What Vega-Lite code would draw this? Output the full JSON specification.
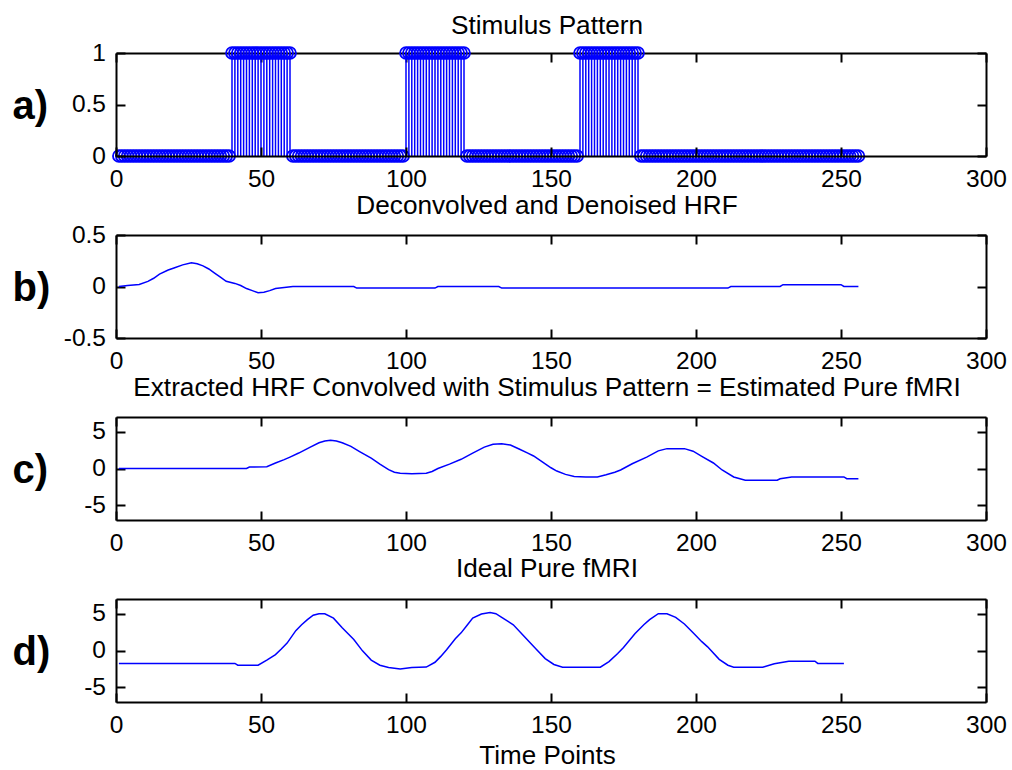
{
  "$schema": "https://vega.github.io/schema/vega-lite/v6.json",
  "background": "white",
  "padding": {"left": 12, "top": 12, "right": 0, "bottom": 0},
  "datasets": {
    "stim": [
      {"t":1,"v":0},{"t":2,"v":0},{"t":3,"v":0},{"t":4,"v":0},{"t":5,"v":0},{"t":6,"v":0},{"t":7,"v":0},{"t":8,"v":0},{"t":9,"v":0},{"t":10,"v":0},
      {"t":11,"v":0},{"t":12,"v":0},{"t":13,"v":0},{"t":14,"v":0},{"t":15,"v":0},{"t":16,"v":0},{"t":17,"v":0},{"t":18,"v":0},{"t":19,"v":0},{"t":20,"v":0},
      {"t":21,"v":0},{"t":22,"v":0},{"t":23,"v":0},{"t":24,"v":0},{"t":25,"v":0},{"t":26,"v":0},{"t":27,"v":0},{"t":28,"v":0},{"t":29,"v":0},{"t":30,"v":0},
      {"t":31,"v":0},{"t":32,"v":0},{"t":33,"v":0},{"t":34,"v":0},{"t":35,"v":0},{"t":36,"v":0},{"t":37,"v":0},{"t":38,"v":0},{"t":39,"v":0},{"t":40,"v":1},
      {"t":41,"v":1},{"t":42,"v":1},{"t":43,"v":1},{"t":44,"v":1},{"t":45,"v":1},{"t":46,"v":1},{"t":47,"v":1},{"t":48,"v":1},{"t":49,"v":1},{"t":50,"v":1},
      {"t":51,"v":1},{"t":52,"v":1},{"t":53,"v":1},{"t":54,"v":1},{"t":55,"v":1},{"t":56,"v":1},{"t":57,"v":1},{"t":58,"v":1},{"t":59,"v":1},{"t":60,"v":1},
      {"t":61,"v":0},{"t":62,"v":0},{"t":63,"v":0},{"t":64,"v":0},{"t":65,"v":0},{"t":66,"v":0},{"t":67,"v":0},{"t":68,"v":0},{"t":69,"v":0},{"t":70,"v":0},
      {"t":71,"v":0},{"t":72,"v":0},{"t":73,"v":0},{"t":74,"v":0},{"t":75,"v":0},{"t":76,"v":0},{"t":77,"v":0},{"t":78,"v":0},{"t":79,"v":0},{"t":80,"v":0},
      {"t":81,"v":0},{"t":82,"v":0},{"t":83,"v":0},{"t":84,"v":0},{"t":85,"v":0},{"t":86,"v":0},{"t":87,"v":0},{"t":88,"v":0},{"t":89,"v":0},{"t":90,"v":0},
      {"t":91,"v":0},{"t":92,"v":0},{"t":93,"v":0},{"t":94,"v":0},{"t":95,"v":0},{"t":96,"v":0},{"t":97,"v":0},{"t":98,"v":0},{"t":99,"v":0},{"t":100,"v":1},
      {"t":101,"v":1},{"t":102,"v":1},{"t":103,"v":1},{"t":104,"v":1},{"t":105,"v":1},{"t":106,"v":1},{"t":107,"v":1},{"t":108,"v":1},{"t":109,"v":1},{"t":110,"v":1},
      {"t":111,"v":1},{"t":112,"v":1},{"t":113,"v":1},{"t":114,"v":1},{"t":115,"v":1},{"t":116,"v":1},{"t":117,"v":1},{"t":118,"v":1},{"t":119,"v":1},{"t":120,"v":1},
      {"t":121,"v":0},{"t":122,"v":0},{"t":123,"v":0},{"t":124,"v":0},{"t":125,"v":0},{"t":126,"v":0},{"t":127,"v":0},{"t":128,"v":0},{"t":129,"v":0},{"t":130,"v":0},
      {"t":131,"v":0},{"t":132,"v":0},{"t":133,"v":0},{"t":134,"v":0},{"t":135,"v":0},{"t":136,"v":0},{"t":137,"v":0},{"t":138,"v":0},{"t":139,"v":0},{"t":140,"v":0},
      {"t":141,"v":0},{"t":142,"v":0},{"t":143,"v":0},{"t":144,"v":0},{"t":145,"v":0},{"t":146,"v":0},{"t":147,"v":0},{"t":148,"v":0},{"t":149,"v":0},{"t":150,"v":0},
      {"t":151,"v":0},{"t":152,"v":0},{"t":153,"v":0},{"t":154,"v":0},{"t":155,"v":0},{"t":156,"v":0},{"t":157,"v":0},{"t":158,"v":0},{"t":159,"v":0},{"t":160,"v":1},
      {"t":161,"v":1},{"t":162,"v":1},{"t":163,"v":1},{"t":164,"v":1},{"t":165,"v":1},{"t":166,"v":1},{"t":167,"v":1},{"t":168,"v":1},{"t":169,"v":1},{"t":170,"v":1},
      {"t":171,"v":1},{"t":172,"v":1},{"t":173,"v":1},{"t":174,"v":1},{"t":175,"v":1},{"t":176,"v":1},{"t":177,"v":1},{"t":178,"v":1},{"t":179,"v":1},{"t":180,"v":1},
      {"t":181,"v":0},{"t":182,"v":0},{"t":183,"v":0},{"t":184,"v":0},{"t":185,"v":0},{"t":186,"v":0},{"t":187,"v":0},{"t":188,"v":0},{"t":189,"v":0},{"t":190,"v":0},
      {"t":191,"v":0},{"t":192,"v":0},{"t":193,"v":0},{"t":194,"v":0},{"t":195,"v":0},{"t":196,"v":0},{"t":197,"v":0},{"t":198,"v":0},{"t":199,"v":0},{"t":200,"v":0},
      {"t":201,"v":0},{"t":202,"v":0},{"t":203,"v":0},{"t":204,"v":0},{"t":205,"v":0},{"t":206,"v":0},{"t":207,"v":0},{"t":208,"v":0},{"t":209,"v":0},{"t":210,"v":0},
      {"t":211,"v":0},{"t":212,"v":0},{"t":213,"v":0},{"t":214,"v":0},{"t":215,"v":0},{"t":216,"v":0},{"t":217,"v":0},{"t":218,"v":0},{"t":219,"v":0},{"t":220,"v":0},
      {"t":221,"v":0},{"t":222,"v":0},{"t":223,"v":0},{"t":224,"v":0},{"t":225,"v":0},{"t":226,"v":0},{"t":227,"v":0},{"t":228,"v":0},{"t":229,"v":0},{"t":230,"v":0},
      {"t":231,"v":0},{"t":232,"v":0},{"t":233,"v":0},{"t":234,"v":0},{"t":235,"v":0},{"t":236,"v":0},{"t":237,"v":0},{"t":238,"v":0},{"t":239,"v":0},{"t":240,"v":0},
      {"t":241,"v":0},{"t":242,"v":0},{"t":243,"v":0},{"t":244,"v":0},{"t":245,"v":0},{"t":246,"v":0},{"t":247,"v":0},{"t":248,"v":0},{"t":249,"v":0},{"t":250,"v":0},
      {"t":251,"v":0},{"t":252,"v":0},{"t":253,"v":0},{"t":254,"v":0},{"t":255,"v":0},{"t":256,"v":0}
    ],
    "hrf": [
      {"t":1,"v":0},{"t":4,"v":0.01},{"t":8,"v":0.02},{"t":11,"v":0.05},{"t":13,"v":0.08},{"t":15,"v":0.12},{"t":18,"v":0.16},{"t":20,"v":0.18},
      {"t":23,"v":0.21},{"t":26,"v":0.23},{"t":28,"v":0.22},{"t":30,"v":0.2},{"t":32,"v":0.17},{"t":34,"v":0.13},{"t":36,"v":0.09},{"t":38,"v":0.05},
      {"t":41,"v":0.03},{"t":43,"v":0.01},{"t":45,"v":-0.02},{"t":47,"v":-0.04},{"t":49,"v":-0.06},{"t":51,"v":-0.055},{"t":53,"v":-0.04},{"t":55,"v":-0.02},
      {"t":58,"v":-0.01},{"t":61,"v":0},{"t":82,"v":0},{"t":83,"v":-0.015},{"t":110,"v":-0.015},{"t":111,"v":0},{"t":132,"v":0},{"t":133,"v":-0.015},
      {"t":211,"v":-0.015},{"t":212,"v":0},{"t":229,"v":0},{"t":230,"v":0.018},{"t":250,"v":0.018},{"t":251,"v":0},{"t":256,"v":0}
    ],
    "est": [
      {"t":1,"v":0},{"t":45,"v":0},{"t":46,"v":0.2},{"t":52,"v":0.25},{"t":55,"v":0.75},{"t":58,"v":1.2},{"t":60,"v":1.55},{"t":63,"v":2.1},
      {"t":67,"v":2.9},{"t":70,"v":3.5},{"t":72,"v":3.75},{"t":74,"v":3.85},{"t":76,"v":3.75},{"t":78,"v":3.5},{"t":81,"v":3.0},{"t":84,"v":2.3},
      {"t":88,"v":1.4},{"t":91,"v":0.6},{"t":94,"v":-0.15},{"t":96,"v":-0.5},{"t":98,"v":-0.65},{"t":102,"v":-0.7},{"t":107,"v":-0.65},{"t":109,"v":-0.4},
      {"t":111,"v":0},{"t":115,"v":0.6},{"t":119,"v":1.25},{"t":123,"v":2.1},{"t":127,"v":2.9},{"t":130,"v":3.3},{"t":133,"v":3.35},{"t":136,"v":3.2},
      {"t":139,"v":2.65},{"t":142,"v":2.1},{"t":144,"v":1.7},{"t":147,"v":0.9},{"t":150,"v":0.1},{"t":152,"v":-0.35},{"t":155,"v":-0.8},{"t":158,"v":-1.1},
      {"t":162,"v":-1.15},{"t":166,"v":-1.15},{"t":169,"v":-0.85},{"t":172,"v":-0.5},{"t":174,"v":-0.2},{"t":178,"v":0.65},{"t":183,"v":1.55},{"t":187,"v":2.4},
      {"t":190,"v":2.7},{"t":196,"v":2.7},{"t":199,"v":2.35},{"t":202,"v":1.65},{"t":206,"v":0.75},{"t":209,"v":-0.2},{"t":213,"v":-1.15},{"t":217,"v":-1.6},
      {"t":228,"v":-1.6},{"t":229,"v":-1.4},{"t":233,"v":-1.15},{"t":251,"v":-1.15},{"t":252,"v":-1.38},{"t":256,"v":-1.38}
    ],
    "ideal": [
      {"t":1,"v":-1.76},{"t":41,"v":-1.76},{"t":42,"v":-2.0},{"t":49,"v":-2.0},{"t":52,"v":-1.3},{"t":55,"v":-0.55},{"t":57,"v":0.2},{"t":59,"v":1.0},
      {"t":62,"v":2.7},{"t":64,"v":3.5},{"t":66,"v":4.2},{"t":68,"v":4.8},{"t":70,"v":5.0},{"t":72,"v":5.0},{"t":75,"v":4.4},{"t":78,"v":3.1},
      {"t":82,"v":1.5},{"t":85,"v":-0.05},{"t":88,"v":-1.3},{"t":91,"v":-2.0},{"t":94,"v":-2.3},{"t":98,"v":-2.5},{"t":102,"v":-2.3},{"t":107,"v":-2.25},
      {"t":110,"v":-1.6},{"t":112,"v":-0.8},{"t":114,"v":0.1},{"t":117,"v":1.6},{"t":119,"v":2.4},{"t":121,"v":3.4},{"t":123,"v":4.4},{"t":126,"v":4.95},
      {"t":129,"v":5.15},{"t":131,"v":5.0},{"t":133,"v":4.5},{"t":137,"v":3.5},{"t":142,"v":1.4},{"t":145,"v":0.15},{"t":148,"v":-1.1},{"t":151,"v":-1.9},
      {"t":154,"v":-2.26},{"t":167,"v":-2.26},{"t":170,"v":-1.5},{"t":173,"v":-0.4},{"t":175,"v":0.4},{"t":179,"v":2.3},{"t":182,"v":3.5},{"t":184,"v":4.2},
      {"t":187,"v":5.0},{"t":190,"v":5.0},{"t":193,"v":4.5},{"t":196,"v":3.6},{"t":199,"v":2.4},{"t":202,"v":1.2},{"t":204,"v":0.5},{"t":208,"v":-1.2},
      {"t":211,"v":-2.0},{"t":213,"v":-2.26},{"t":223,"v":-2.26},{"t":227,"v":-1.8},{"t":232,"v":-1.45},{"t":241,"v":-1.45},{"t":242,"v":-1.76},{"t":251,"v":-1.76}
    ]
  },
  "bounds": "flush",
  "spacing": 79,
  "vconcat": [
    {
      "width": 870, "height": 103,
      "data": {"name": "stim"},
      "title": {"text": "Stimulus Pattern", "offset": 1},
      "layer": [
        {
          "mark": {"type": "rule", "color": "#0000ff", "strokeWidth": 1.5},
          "encoding": {
            "x": {"field": "t", "type": "quantitative", "scale": {"domain": [0, 300], "nice": false, "zero": false},
                  "axis": {"orient": "bottom", "values": [0, 50, 100, 150, 200, 250, 300], "title": null, "zindex": 1}},
            "y": {"field": "v", "type": "quantitative", "scale": {"domain": [0, 1], "nice": false, "zero": false},
                  "axis": {"orient": "left", "values": [0, 0.5, 1], "title": "a)", "zindex": 1}},
            "y2": {"datum": 0}
          }
        },
        {
          "mark": {"type": "point", "shape": "circle", "filled": false, "color": "#0000ff", "size": 140, "strokeWidth": 1.8, "opacity": 1},
          "encoding": {
            "x": {"field": "t", "type": "quantitative", "scale": {"domain": [0, 300], "nice": false, "zero": false},
                  "axis": {"orient": "top", "values": [0, 50, 100, 150, 200, 250, 300], "labels": false, "title": null, "zindex": 0}},
            "y": {"field": "v", "type": "quantitative", "scale": {"domain": [0, 1], "nice": false, "zero": false},
                  "axis": {"orient": "right", "values": [0, 0.5, 1], "labels": false, "title": null, "zindex": 0}}
          }
        }
      ],
      "resolve": {"axis": {"x": "independent", "y": "independent"}}
    },
    {
      "width": 870, "height": 103,
      "data": {"name": "hrf"},
      "title": {"text": "Deconvolved and Denoised HRF", "offset": 3},
      "layer": [
        {
          "mark": {"type": "line", "color": "#0000ff", "strokeWidth": 1.5},
          "encoding": {
            "x": {"field": "t", "type": "quantitative", "scale": {"domain": [0, 300], "nice": false, "zero": false},
                  "axis": {"orient": "bottom", "values": [0, 50, 100, 150, 200, 250, 300], "title": null}},
            "y": {"field": "v", "type": "quantitative", "scale": {"domain": [-0.5, 0.5], "nice": false, "zero": false},
                  "axis": {"orient": "left", "values": [-0.5, 0, 0.5], "title": "b)"}}
          }
        },
        {
          "mark": {"type": "point", "opacity": 0},
          "encoding": {
            "x": {"field": "t", "type": "quantitative", "scale": {"domain": [0, 300], "nice": false, "zero": false},
                  "axis": {"orient": "top", "values": [0, 50, 100, 150, 200, 250, 300], "labels": false, "title": null}},
            "y": {"field": "v", "type": "quantitative", "scale": {"domain": [-0.5, 0.5], "nice": false, "zero": false},
                  "axis": {"orient": "right", "values": [-0.5, 0, 0.5], "labels": false, "title": null}}
          }
        }
      ],
      "resolve": {"axis": {"x": "independent", "y": "independent"}}
    },
    {
      "width": 870, "height": 103,
      "data": {"name": "est"},
      "title": {"text": "Extracted HRF Convolved with Stimulus Pattern = Estimated Pure fMRI", "offset": 15},
      "layer": [
        {
          "mark": {"type": "line", "color": "#0000ff", "strokeWidth": 1.5},
          "encoding": {
            "x": {"field": "t", "type": "quantitative", "scale": {"domain": [0, 300], "nice": false, "zero": false},
                  "axis": {"orient": "bottom", "values": [0, 50, 100, 150, 200, 250, 300], "title": null}},
            "y": {"field": "v", "type": "quantitative", "scale": {"domain": [-7, 7], "nice": false, "zero": false},
                  "axis": {"orient": "left", "values": [-5, 0, 5], "title": "c)"}}
          }
        },
        {
          "mark": {"type": "point", "opacity": 0},
          "encoding": {
            "x": {"field": "t", "type": "quantitative", "scale": {"domain": [0, 300], "nice": false, "zero": false},
                  "axis": {"orient": "top", "values": [0, 50, 100, 150, 200, 250, 300], "labels": false, "title": null}},
            "y": {"field": "v", "type": "quantitative", "scale": {"domain": [-7, 7], "nice": false, "zero": false},
                  "axis": {"orient": "right", "values": [-5, 0, 5], "labels": false, "title": null}}
          }
        }
      ],
      "resolve": {"axis": {"x": "independent", "y": "independent"}}
    },
    {
      "width": 870, "height": 103,
      "data": {"name": "ideal"},
      "title": {"text": "Ideal Pure fMRI", "offset": 16},
      "layer": [
        {
          "mark": {"type": "line", "color": "#0000ff", "strokeWidth": 1.5},
          "encoding": {
            "x": {"field": "t", "type": "quantitative", "scale": {"domain": [0, 300], "nice": false, "zero": false},
                  "axis": {"orient": "bottom", "values": [0, 50, 100, 150, 200, 250, 300], "title": "Time Points",
                           "titleX": 431, "titleY": 61, "titleBaseline": "alphabetic", "titleAlign": "center",
                           "titleFont": "Liberation Sans", "titleFontSize": 26, "titleFontWeight": "normal", "titleColor": "#000"}},
            "y": {"field": "v", "type": "quantitative", "scale": {"domain": [-7, 7], "nice": false, "zero": false},
                  "axis": {"orient": "left", "values": [-5, 0, 5], "title": "d)"}}
          }
        },
        {
          "mark": {"type": "point", "opacity": 0},
          "encoding": {
            "x": {"field": "t", "type": "quantitative", "scale": {"domain": [0, 300], "nice": false, "zero": false},
                  "axis": {"orient": "top", "values": [0, 50, 100, 150, 200, 250, 300], "labels": false, "title": null}},
            "y": {"field": "v", "type": "quantitative", "scale": {"domain": [-7, 7], "nice": false, "zero": false},
                  "axis": {"orient": "right", "values": [-5, 0, 5], "labels": false, "title": null}}
          }
        }
      ],
      "resolve": {"axis": {"x": "independent", "y": "independent"}}
    }
  ],
  "config": {
    "view": {"stroke": null},
    "axis": {
      "domainColor": "#000", "domainWidth": 2, "tickColor": "#000", "tickWidth": 2, "tickSize": -9,
      "labelFont": "Liberation Sans", "labelFontSize": 24.5, "labelColor": "#000",
      "labelFlush": false, "labelOverlap": false, "labelBound": false, "grid": false,
      "labelExpr": "replace(format(datum.value, ''), '\u2212', '-')"
    },
    "axisBottom": {"labelBaseline": "alphabetic", "labelPadding": 39.5},
    "axisLeft": {
      "labelPadding": 19.5,
      "titleAngle": 0, "titleAlign": "left", "titleBaseline": "middle", "titleX": -104, "titleY": 53,
      "titleFont": "Liberation Sans", "titleFontSize": 40, "titleFontWeight": "bold", "titleColor": "#000"
    },
    "title": {
      "font": "Liberation Sans", "fontSize": 26.2, "fontWeight": "normal", "color": "#000",
      "baseline": "alphabetic", "anchor": "middle", "frame": "group", "dx": -4
    }
  }
}
